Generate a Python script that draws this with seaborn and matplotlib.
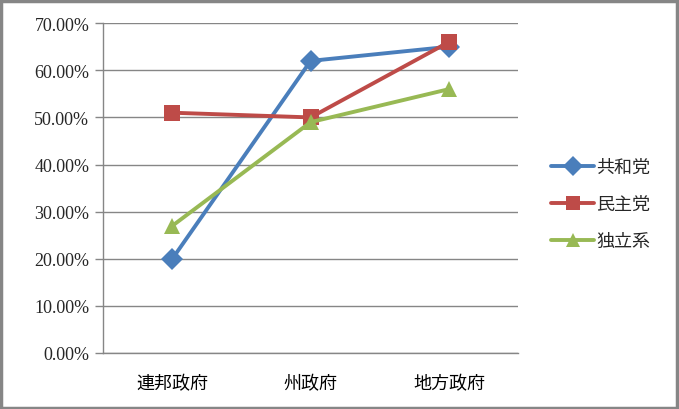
import matplotlib
matplotlib.use("Agg")
import matplotlib.pyplot as plt
import matplotlib.ticker as mticker
import seaborn as sns
import pandas as pd

categories = ["連邦政府", "州政府", "地方政府"]
parties = ["共和党", "民主党", "独立系"]
republican = [0.20, 0.62, 0.65]
democrat = [0.51, 0.50, 0.66]
independent = [0.27, 0.49, 0.56]
y_ticks = [0.0, 0.1, 0.2, 0.3, 0.4, 0.5, 0.6, 0.7]

colors = ["#4A7EBB", "#BE4B48", "#98B954"]
markers = ["D", "s", "^"]

rows = []
for party, vals in zip(parties, [republican, democrat, independent]):
    for i, (cat, v) in enumerate(zip(categories, vals)):
        rows.append({"level": cat, "pos": i, "party": party, "share": v})
df = pd.DataFrame(rows)

sns.set_theme(style="white")
plt.rcParams["font.family"] = ["Noto Sans CJK JP", "DejaVu Sans"]

fig = plt.figure(figsize=(6.79, 4.10), dpi=100)
ax = fig.add_axes([0.152, 0.1366, 0.611, 0.8044])

sns.lineplot(data=df, x="pos", y="share", hue="party", style="party",
             hue_order=parties, style_order=parties,
             palette=colors, markers=dict(zip(parties, markers)),
             dashes=False, linewidth=2.8, markersize=11.5,
             markeredgewidth=0, ax=ax, legend=True)

ax.set_xlim(-0.5, 2.5)
ax.set_ylim(0, 0.7)
ax.set_yticks(y_ticks)
ax.yaxis.set_major_formatter(mticker.FuncFormatter(lambda v, p: f"{v*100:.2f}%"))
for lab in ax.get_yticklabels():
    lab.set_fontfamily("Liberation Serif")
    lab.set_fontsize(13)
ax.set_xticks(range(len(categories)))
ax.set_xticklabels(categories, fontsize=13)
ax.set_xticks([-0.5, 0.5, 1.5, 2.5], minor=True)
ax.tick_params(axis="x", which="major", length=0, pad=15, colors="#000000")
ax.tick_params(axis="x", which="minor", length=6, color="#868686", width=1)
ax.tick_params(axis="y", length=6, color="#868686", width=1, left=True, pad=4)
ax.set_xlabel("")
ax.set_ylabel("")
ax.yaxis.grid(True, color="#868686", linewidth=1)
ax.xaxis.grid(False)
for s in ["top", "right"]:
    ax.spines[s].set_visible(False)
for s in ["left", "bottom"]:
    ax.spines[s].set_color("#868686")
    ax.spines[s].set_linewidth(1)
ax.set_axisbelow(True)

handles, labels = ax.get_legend_handles_labels()
for h in handles:
    h.set_markersize(10)
leg = ax.legend(handles, labels, loc="center left", bbox_to_anchor=(1.04, 0.452),
                frameon=False, fontsize=13, handlelength=2.4,
                handletextpad=0.1, labelspacing=1.05)

# outer chart border
fig.patches.append(plt.Rectangle((0.002, 0.003), 0.995, 0.993, transform=fig.transFigure,
                                 fill=False, edgecolor="#868686", linewidth=2.5))

fig.savefig("out.png", dpi=100)
